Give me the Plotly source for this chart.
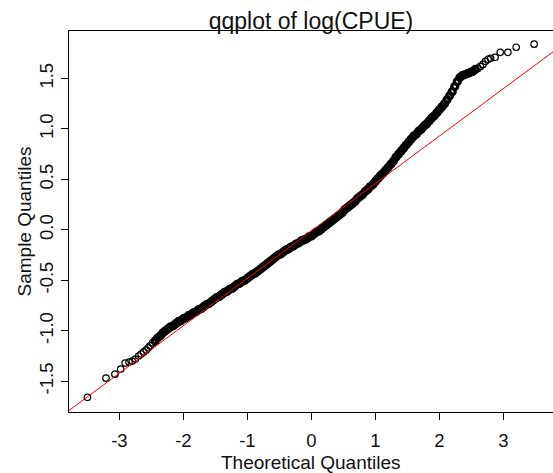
import plotly.graph_objects as go

# Normal Q-Q plot of log(CPUE): theoretical vs sample quantiles,
# split into the sparse lower tail, the dense body and the sparse upper tail
lower_theoretical = [-3.50, -3.21, -3.07, -2.98, -2.91, -2.85, -2.80, -2.75, -2.70, -2.66, -2.62, -2.58, -2.55, -2.52, -2.48]
lower_sample = [-1.66, -1.47, -1.43, -1.38, -1.32, -1.31, -1.30, -1.28, -1.25, -1.23, -1.21, -1.19, -1.17, -1.15, -1.12]

body_theoretical = [
    -2.44, -2.40, -2.36, -2.32, -2.28, -2.24, -2.20, -2.16, -2.12, -2.08, -2.04,
    -2.00, -1.96, -1.92, -1.88, -1.84, -1.80, -1.76, -1.72, -1.68, -1.64, -1.60, -1.56, -1.52,
    -1.48, -1.44, -1.40, -1.36, -1.32, -1.28, -1.24, -1.20, -1.16, -1.12, -1.08, -1.04, -1.00,
    -0.96, -0.92, -0.88, -0.84, -0.80, -0.76, -0.72, -0.68, -0.64, -0.60, -0.56, -0.52, -0.48,
    -0.44, -0.40, -0.36, -0.32, -0.28, -0.24, -0.20, -0.16, -0.12, -0.08, -0.04, 0.00, 0.04,
    0.08, 0.12, 0.16, 0.20, 0.24, 0.28, 0.32, 0.36, 0.40, 0.44, 0.48, 0.52, 0.56, 0.60, 0.64,
    0.68, 0.72, 0.76, 0.80, 0.84, 0.88, 0.92, 0.96, 1.00, 1.04, 1.08, 1.12, 1.16, 1.20, 1.24,
    1.28, 1.32, 1.36, 1.40, 1.44, 1.48, 1.52, 1.56, 1.60, 1.64, 1.68, 1.72, 1.76, 1.80, 1.84,
    1.88, 1.92, 1.96, 2.00, 2.04, 2.08, 2.12, 2.16, 2.20, 2.24, 2.28, 2.32, 2.36, 2.40, 2.44,
    2.48, 2.52, 2.56,
]
body_sample = [
    -1.10, -1.07, -1.05, -1.02, -1.00, -0.98, -0.96, -0.95, -0.93, -0.91, -0.90,
    -0.88, -0.87, -0.85, -0.84, -0.82, -0.81, -0.79, -0.78, -0.76, -0.74, -0.73, -0.71, -0.69,
    -0.67, -0.66, -0.64, -0.62, -0.61, -0.59, -0.58, -0.56, -0.54, -0.53, -0.51, -0.50, -0.48,
    -0.46, -0.44, -0.43, -0.41, -0.39, -0.37, -0.35, -0.33, -0.31, -0.29, -0.27, -0.25, -0.24,
    -0.22, -0.20, -0.19, -0.17, -0.16, -0.14, -0.13, -0.11, -0.10, -0.09, -0.07, -0.06, -0.04,
    -0.02, -0.01, 0.01, 0.03, 0.05, 0.07, 0.09, 0.11, 0.13, 0.15, 0.17, 0.20, 0.22, 0.24, 0.26,
    0.28, 0.31, 0.33, 0.35, 0.38, 0.40, 0.43, 0.45, 0.48, 0.51, 0.54, 0.56, 0.59, 0.62, 0.65,
    0.68, 0.72, 0.75, 0.78, 0.81, 0.84, 0.87, 0.90, 0.93, 0.95, 0.98, 1.00, 1.03, 1.05, 1.08,
    1.11, 1.13, 1.16, 1.19, 1.22, 1.25, 1.29, 1.33, 1.37, 1.42, 1.47, 1.51, 1.53, 1.54, 1.55,
    1.56, 1.57, 1.59,
]

upper_theoretical = [2.60, 2.64, 2.68, 2.72, 2.76, 2.80, 2.87, 2.95, 3.07, 3.20, 3.48]
upper_sample = [1.60, 1.62, 1.64, 1.67, 1.69, 1.70, 1.71, 1.76, 1.76, 1.81, 1.84]

# Reference line through the quartiles (qqline)
qqline_intercept = -0.01
qqline_slope = 0.47

x_ticks = [-3, -2, -1, 0, 1, 2, 3]
x_tick_labels = ["-3", "-2", "-1", "0", "1", "2", "3"]
y_ticks = [-1.5, -1.0, -0.5, 0.0, 0.5, 1.0, 1.5]
y_tick_labels = ["-1.5", "-1.0", "-0.5", "0.0", "0.5", "1.0", "1.5"]

x_range = [-3.7875, 3.775]
y_range = [-1.805, 1.971]

FONT = "Liberation Sans, Arial, sans-serif"
INK = "#111111"

fig = go.Figure()

# the body holds many overlapping points, so its rings merge into a solid band
fig.add_trace(go.Scatter(
    x=body_theoretical, y=body_sample, mode="markers",
    marker=dict(symbol="circle-open", size=6, color="black", line=dict(width=3.2, color="black")),
    showlegend=False, hoverinfo="x+y",
))
for tx, ty in [(lower_theoretical, lower_sample), (upper_theoretical, upper_sample)]:
    fig.add_trace(go.Scatter(
        x=tx, y=ty, mode="markers",
        marker=dict(symbol="circle-open", size=6.5, color="black", line=dict(width=1.2, color="black")),
        showlegend=False, hoverinfo="x+y",
    ))

line_x = x_range
line_y = [qqline_intercept + qqline_slope * v for v in line_x]
fig.add_trace(go.Scatter(
    x=line_x, y=line_y, mode="lines",
    line=dict(color="#ff0000", width=1),
    showlegend=False, hoverinfo="skip",
))

W, H = 553, 473
ml, mr, mt, mb = 69, 0, 31, 60.5

fig.update_layout(
    width=W, height=H,
    margin=dict(l=ml, r=mr, t=mt, b=mb, pad=0),
    paper_bgcolor="white", plot_bgcolor="white",
    font=dict(family=FONT, color=INK),
    title=dict(
        text="qqplot of log(CPUE)",
        x=0.5, xref="paper", xanchor="center",
        y=1 - 20.5 / H, yref="container", yanchor="middle",
        font=dict(size=23, family=FONT, color=INK),
    ),
    xaxis=dict(
        range=x_range, showgrid=False, zeroline=False,
        showline=True, linecolor="black", linewidth=1, mirror=True,
        ticks="outside", ticklen=7, tickwidth=1, tickcolor="black",
        tickvals=x_ticks, ticktext=x_tick_labels, ticklabelstandoff=5,
        tickfont=dict(size=18.5, family=FONT, color=INK),
    ),
    yaxis=dict(
        range=y_range, showgrid=False, zeroline=False,
        showline=True, linecolor="black", linewidth=1, mirror=False,
        ticks="outside", ticklen=7, tickwidth=1, tickcolor="black",
        tickvals=y_ticks, ticktext=y_tick_labels, tickangle=-90, ticklabelstandoff=1,
        tickfont=dict(size=18.5, family=FONT, color=INK),
    ),
    annotations=[
        dict(text="Theoretical Quantiles", xref="paper", yref="paper",
             x=0.5, y=(H - mb - 463.5) / (H - mt - mb), xanchor="center", yanchor="middle",
             showarrow=False, font=dict(size=19, family=FONT, color=INK)),
        dict(text="Sample Quantiles", xref="paper", yref="paper",
             x=(24 - ml) / (W - ml - mr), y=0.5, xanchor="center", yanchor="middle",
             textangle=-90, showarrow=False, font=dict(size=19, family=FONT, color=INK)),
    ],
)

fig.write_html("out.html")
